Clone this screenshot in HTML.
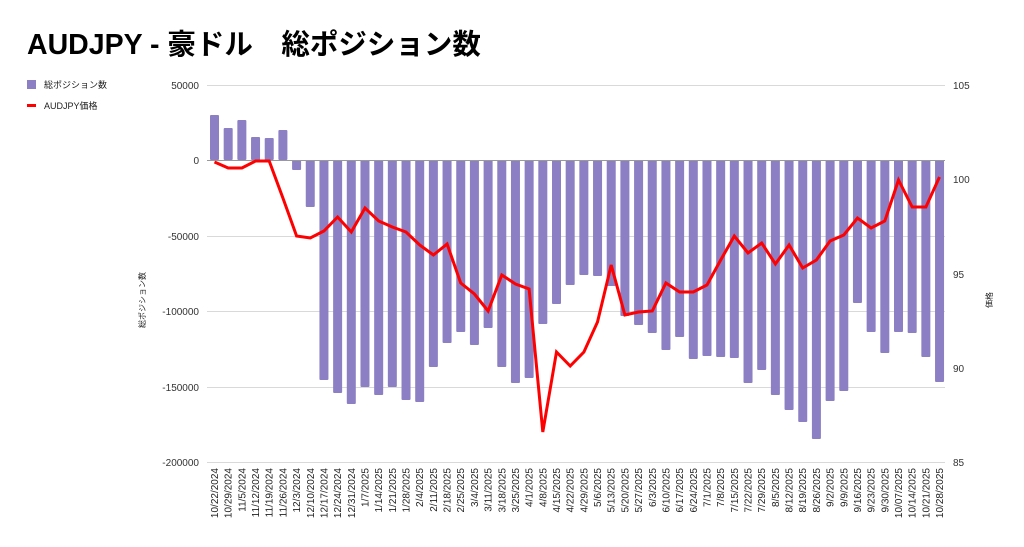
<!DOCTYPE html>
<html><head><meta charset="utf-8"><style>
html,body{margin:0;padding:0;background:#fff;width:1024px;height:547px;overflow:hidden}
svg{display:block;font-family:"Liberation Sans","Noto Sans CJK JP",sans-serif}
</style></head><body>
<svg id="c" width="1024" height="547" viewBox="0 0 1024 547" xmlns="http://www.w3.org/2000/svg">
<text x="27" y="54" font-size="28.5" font-weight="bold" fill="#000">AUDJPY - 豪ドル　総ポジション数</text>
<rect x="27" y="80" width="9" height="9" fill="#8c7fc4"/>
<text x="44" y="88" font-size="9" fill="#222">総ポジション数</text>
<rect x="27" y="104" width="9" height="3" fill="#f00"/>
<text x="44" y="109" font-size="9" fill="#222">AUDJPY価格</text>
<g stroke="#d9d9d9" stroke-width="1">
<line x1="207" x2="945" y1="85.5" y2="85.5"/>
<line x1="207" x2="945" y1="236.5" y2="236.5"/>
<line x1="207" x2="945" y1="311.5" y2="311.5"/>
<line x1="207" x2="945" y1="387.5" y2="387.5"/>
<line x1="207" x2="945" y1="462.5" y2="462.5"/>
</g>
<g font-size="10" fill="#333" text-anchor="end">
<text x="199" y="89">50000</text>
<text x="199" y="164">0</text>
<text x="199" y="240">-50000</text>
<text x="199" y="315">-100000</text>
<text x="199" y="391">-150000</text>
<text x="199" y="466">-200000</text>
</g>
<g font-size="10" fill="#333" text-anchor="start">
<text x="953" y="89">105</text>
<text x="953" y="183">100</text>
<text x="953" y="278">95</text>
<text x="953" y="372">90</text>
<text x="953" y="466">85</text>
</g>
<text transform="translate(145,300) rotate(-90)" font-size="8" fill="#222" text-anchor="middle">総ポジション数</text>
<text transform="translate(992,300) rotate(-90)" font-size="8" fill="#222" text-anchor="middle">価格</text>
<g id="bars" fill="#8c7fc4"></g>
<line x1="207" x2="945" y1="160.5" y2="160.5" stroke="#999" stroke-width="1"/>
<polyline id="ln" fill="none" stroke="#f00" stroke-width="3" stroke-linejoin="miter"/>
<g id="lbl" font-size="10" fill="#222" text-anchor="end"></g>
</svg>
<script>
var ends=[115,128,120,137,138,130,170,207,380,393,404,387,395,387,400,402,367,343,332,345,328,367,383,378,324,304,285,275,276,286,316,325,333,350,337,359,356,357,358,383,370,395,410,422,439,401,391,303,332,353,332,333,357,382];
var ly=[162,168,168,161,161,198,236,238,231,217,232,208,221,227,232,245,255,244,283,294,311,275,284,289,432,352,366,352,322,265,315,312,311,283,292,292,285,260,236,253,243,264,245,268,260,241,235,218,228,221,180,207,207,177];
var labs="10/22/2024,10/29/2024,11/5/2024,11/12/2024,11/19/2024,11/26/2024,12/3/2024,12/10/2024,12/17/2024,12/24/2024,12/31/2024,1/7/2025,1/14/2025,1/21/2025,1/28/2025,2/4/2025,2/11/2025,2/18/2025,2/25/2025,3/4/2025,3/11/2025,3/18/2025,3/25/2025,4/1/2025,4/8/2025,4/15/2025,4/22/2025,4/29/2025,5/6/2025,5/13/2025,5/20/2025,5/27/2025,6/3/2025,6/10/2025,6/17/2025,6/24/2025,7/1/2025,7/8/2025,7/15/2025,7/22/2025,7/29/2025,8/5/2025,8/12/2025,8/19/2025,8/26/2025,9/2/2025,9/9/2025,9/16/2025,9/23/2025,9/30/2025,10/07/2025,10/14/2025,10/21/2025,10/28/2025".split(",");
var ns="http://www.w3.org/2000/svg",b=document.getElementById("bars"),l=document.getElementById("lbl"),pts=[];
for(var i=0;i<54;i++){var x=214.5+i*13.68;
var r=document.createElementNS(ns,"rect");var y1=Math.min(160,ends[i]),y2=Math.max(160,ends[i]);
r.setAttribute("x",x-4.5);r.setAttribute("y",y1);r.setAttribute("width",9);r.setAttribute("height",y2-y1);r.setAttribute("rx",1);b.appendChild(r);
pts.push(x.toFixed(1)+","+ly[i]);
var t=document.createElementNS(ns,"text");t.setAttribute("transform","translate("+(x+3.5)+",468) rotate(-90)");t.textContent=labs[i];l.appendChild(t);}
document.getElementById("ln").setAttribute("points",pts.join(" "));
</script>
</body></html>
